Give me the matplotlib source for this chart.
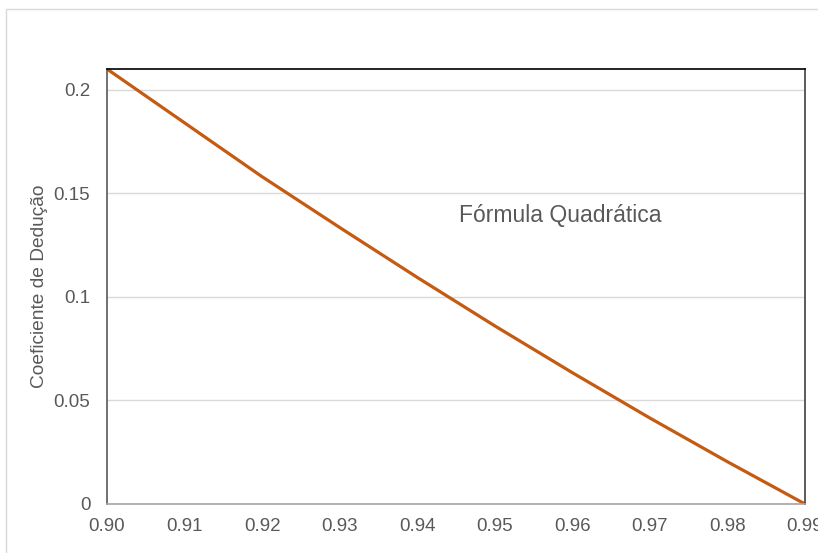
import matplotlib.pyplot as plt
from matplotlib.patches import Rectangle
from matplotlib.ticker import FixedLocator, FuncFormatter

plt.rcParams['font.family'] = ['Liberation Sans', 'DejaVu Sans']

# --- data ---
fp = [0.90, 0.91, 0.92, 0.93, 0.94, 0.95, 0.96, 0.97, 0.98, 0.99]
coef = [0.210, 0.184, 0.158, 0.1335, 0.1094, 0.086, 0.0634, 0.0415, 0.0204, 0.0]
x_ticks = [0.90, 0.91, 0.92, 0.93, 0.94, 0.95, 0.96, 0.97, 0.98, 0.99]
y_ticks = [0, 0.05, 0.1, 0.15, 0.2]
y_labels = ["0", "0.05", "0.1", "0.15", "0.2"]

grey_txt = "#595959"

fig = plt.figure(figsize=(8.18, 5.53), dpi=100)
# outer chart frame (cut off on the right / bottom like the reference)
fig.patches.append(Rectangle((6 / 818, -0.05), 1.2, (553 - 9) / 553 + 0.05,
                             transform=fig.transFigure, fill=False,
                             edgecolor="#d9d9d9", linewidth=1))

ax = fig.add_axes([107 / 818, 49 / 553, 698 / 818, 435 / 553])
ax.plot(fp, coef, color="#c55a11", linewidth=2.3, solid_capstyle="butt")

ax.set_xlim(0.90, 0.99)
ax.set_ylim(0, 0.21)
ax.xaxis.set_major_locator(FixedLocator(x_ticks))
ax.xaxis.set_major_formatter(FuncFormatter(lambda v, p: f"{v:.2f}"))
ax.set_yticks(y_ticks)
ax.set_yticklabels(y_labels)
ax.tick_params(axis="both", length=0, labelsize=13.5, colors=grey_txt)
ax.tick_params(axis="x", pad=10)
ax.tick_params(axis="y", pad=12)

ax.yaxis.grid(True, color="#d9d9d9", linewidth=1)
ax.set_axisbelow(True)

ax.spines["top"].set_color("black")
ax.spines["right"].set_color("#404040")
ax.spines["left"].set_color("#595959")
ax.spines["bottom"].set_color("#a6a6a6")
for s in ax.spines.values():
    s.set_linewidth(1.2)

ax.set_ylabel("Coeficiente de Dedução", fontsize=13.8, color=grey_txt, labelpad=4)
ax.text(0.9584, 0.1395, "Fórmula Quadrática", fontsize=16.5, color=grey_txt,
        ha="center", va="center")

fig.savefig("out.png", dpi=100)
